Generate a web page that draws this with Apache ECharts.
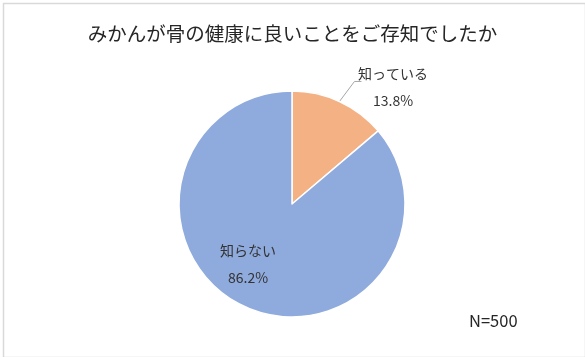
<!DOCTYPE html>
<html><head><meta charset="utf-8">
<script src="https://cdn.jsdelivr.net/npm/echarts@6/dist/echarts.min.js"></script>
<style>html,body{margin:0;padding:0;background:#fff}#c{width:585px;height:357px}</style>
</head><body><div id="c"></div>
<script>
const titleText = 'みかんが骨の健康に良いことをご存知でしたか';
const categories = ['知っている', '知らない'];
const values = [13.8, 86.2];
const colors = ['#F4B183', '#8FAADC'];
const noteText = 'N=500';

const chart = echarts.init(document.getElementById('c'), null, {renderer: 'canvas'});
const font = '"Noto Sans CJK JP", "Noto Sans", sans-serif';
chart.setOption({
  animation: false,
  backgroundColor: '#fff',
  title: {
    text: titleText, left: 'center', top: 19,
    textStyle: {fontFamily: font, fontSize: 19.5, fontWeight: 'normal', color: '#262626'}
  },
  graphic: [
    {type: 'rect', left: 1, top: 1, shape: {width: 582, height: 354},
     style: {fill: 'none', stroke: '#D9D9D9', lineWidth: 1.5}, silent: true},
    {type: 'text', left: 469, top: 312,
     style: {text: noteText, fontFamily: font, fontSize: 16.5, fill: '#262626'}}
  ],
  series: [{
    type: 'pie',
    center: [292, 204],
    radius: [0, 113],
    startAngle: 90,
    clockwise: true,
    itemStyle: {borderColor: '#fff', borderWidth: 1.5},
    label: {
      fontFamily: font, fontSize: 14, color: '#333333', lineHeight: 27, align: 'center',
      formatter: p => p.name + '\n' + p.value.toFixed(1) + '%'
    },
    labelLine: {lineStyle: {color: '#A6A6A6', width: 1}},
    labelLayout: p => {
      if (p.dataIndex === 0) {
        const s = p.labelLinePoints ? p.labelLinePoints[0] : null;
        const o = {x: 393, y: 87, align: 'center', verticalAlign: 'middle'};
        if (s) o.labelLinePoints = [s, [s[0] + 15, s[1] - 20], [s[0] + 22, s[1] - 20]];
        return o;
      }
      return {x: 248, y: 264, align: 'center', verticalAlign: 'middle'};
    },
    data: categories.map((c, i) => {
      const d = {name: c, value: values[i], itemStyle: {color: colors[i]}};
      if (i === 0) {
        d.label = {position: 'outside'};
        d.labelLine = {show: true, length: 20, length2: 4};
      } else {
        d.label = {position: 'inside'};
      }
      return d;
    })
  }]
});
</script></body></html>
